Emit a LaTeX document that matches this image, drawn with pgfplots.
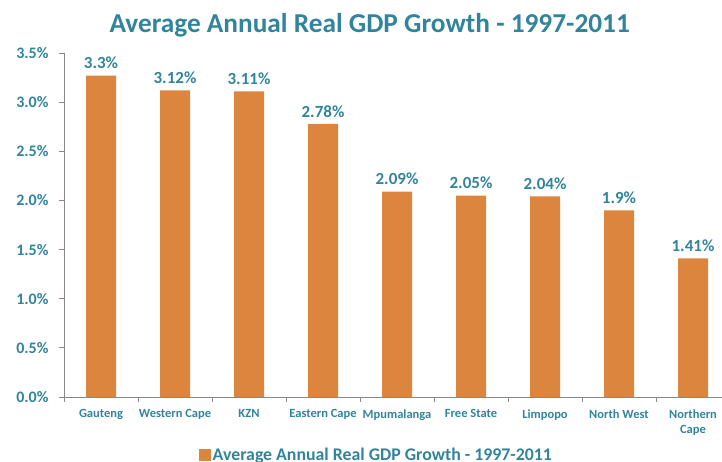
\documentclass[border=0pt]{standalone}
\usepackage{pgfplots}
\pgfplotsset{compat=1.18}
\usepackage{fontspec}
\setmainfont{Carlito}
\definecolor{myteal}{HTML}{31849B}
\definecolor{barorange}{HTML}{DC853F}
\definecolor{axisgray}{HTML}{888888}
\pgfplotstableread{
x y lab
0 3.27 3.3
1 3.12 3.12
2 3.11 3.11
3 2.78 2.78
4 2.09 2.09
5 2.05 2.05
6 2.04 2.04
7 1.90 1.9
8 1.41 1.41
}\gdpdata
\begin{document}
\begin{tikzpicture}
\path[use as bounding box] (-64pt,-65pt) rectangle (658pt,397pt);
\begin{axis}[
  scale only axis, width=666pt, height=344pt,
  xmin=-0.5, xmax=8.5, ymin=0, ymax=3.5,
  axis x line=bottom, axis y line=left,
  axis line style={draw=axisgray, line width=0.8pt, -},
  ybar, bar width=30pt,
  xtick={0,...,8}, major x tick style={draw=none},
  xticklabels={Gauteng, Western Cape, KZN, Eastern Cape, Mpumalanga, Free State, Limpopo, North West, {Northern\\Cape}},
  minor xtick={-0.5,0.5,...,8.5},
  minor x tick style={draw=axisgray, line width=0.8pt},
  xtick align=outside, ytick align=outside,
  minor tick length=5pt, major tick length=5pt,
  ytick={0,0.5,...,3.5},
  ytick style={draw=axisgray, line width=0.8pt},
  /pgf/number format/assume math mode=true,
  yticklabel={\pgfmathprintnumber[fixed,fixed zerofill,precision=1]{\tick}\%},
  yticklabel style={font=\bfseries\fontsize{16}{18}\selectfont, text=myteal, xshift=-7pt},
  xticklabel style={font=\bfseries\fontsize{12.5}{15}\selectfont, text=myteal, align=center, yshift=-4pt},
  tick label style={/pgf/number format/assume math mode=true},
  nodes near coords={\pgfmathprintnumber{\pgfplotspointmeta}\%},
  point meta=explicit,
  nodes near coords style={font=\bfseries\fontsize{17}{19}\selectfont, text=myteal, yshift=3pt, /pgf/number format/assume math mode=true},
  legend style={at={(0.469,-0.17)}, anchor=center, draw=none, fill=none,
    font=\bfseries\fontsize{17.8}{19}\selectfont, text=myteal},
  legend image code/.code={\fill[barorange] (0pt,-6pt) rectangle (12pt,6pt);},
  clip=false,
]
\addplot[fill=barorange, draw=none] table[x=x, y=y, meta=lab] {\gdpdata};
\addlegendentry{Average Annual Real GDP Growth - 1997-2011}
\node[font=\bfseries\fontsize{27.3}{29}\selectfont, text=myteal, anchor=base] at (axis description cs:0.459,1) [yshift=20pt] {Average Annual Real GDP Growth - 1997-2011};
\end{axis}
\end{tikzpicture}
\end{document}
